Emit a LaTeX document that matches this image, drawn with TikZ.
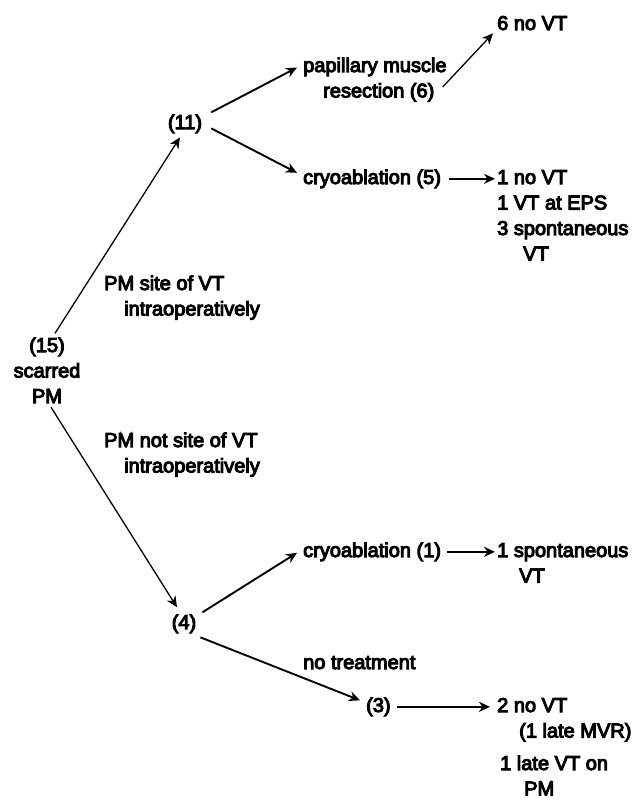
\documentclass[tikz,border=0pt]{standalone}
\usepackage{fontspec}
\newfontfamily\flowfont{Liberation Sans}[RawFeature={embolden=5}]
\usetikzlibrary{arrows.meta}

\begin{document}
\begin{tikzpicture}[x=1pt, y=-1pt,
      every node/.style={font=\flowfont\fontsize{20}{25.5}\selectfont, inner sep=0pt},
      txt/.style={anchor=base west, align=left},
      mid/.style={anchor=base, align=center},
      >={Stealth[length=11pt, width=10pt, inset=3.5pt]},
      thinline/.style={->, line width=1.3pt},
      arrowline/.style={->, line width=1.9pt}]
    \useasboundingbox (0,0) rectangle (638,807);

    % root and branch counts (base = last line)
    \node[mid] (n15) at (47,403) {(15)\\scarred\\PM};
    \node[mid] (n11) at (185,129) {(11)};
    \node[mid] (n4) at (184,629) {(4)};
    \node[txt] (n3) at (366,712) {(3)};

    % branch labels
    \node[txt] (site) at (104,315.5) {PM site of VT\\\hspace*{1em}intraoperatively};
    \node[txt] (nosite) at (104,472.5) {PM not site of VT\\\hspace*{1em}intraoperatively};
    \node[txt] (notreat) at (303,669) {no treatment};

    % treatments
    \node[txt] (pap) at (303,97.5) {papillary muscle\\\hspace*{1em}resection (6)};
    \node[txt] (cryo5) at (303,184) {cryoablation (5)};
    \node[txt] (cryo1) at (303,557) {cryoablation (1)};

    % outcomes
    \node[txt] (sixno) at (497,30) {6 no VT};
    \node[txt] (res5) at (497,260.5) {1 no VT\\1 VT at EPS\\3 spontaneous\\\hspace*{1.3em}VT};
    \node[txt] (res1) at (497,582.5) {1 spontaneous\\\hspace*{1.1em}VT};
    \node[txt] (res3) at (497,737.5) {2 no VT\\\hspace*{1.1em}(1 late MVR)};
    \node[txt] (late) at (500,795.5) {1 late VT on\\\hspace*{1.2em}PM};

    \draw[thinline] ([xshift=8pt,yshift=4pt]n15.north) -- ([xshift=-5pt,yshift=-4pt]n11.south);
    \draw[thinline] ([xshift=4pt,yshift=-4pt]n15.south) -- ([xshift=-7pt,yshift=7pt]n4.north);

    \draw[arrowline] ([xshift=9pt,yshift=2pt]n11.north east) -- ([xshift=-6pt,yshift=12pt]pap.west);
    \draw[arrowline] ([xshift=9pt,yshift=5pt]n11.south east) -- ([xshift=-6pt,yshift=6pt]cryo5.west);
    \draw[thinline] ([xshift=-4pt,yshift=15pt]pap.south east) -- ([xshift=-4pt,yshift=-3pt]sixno.south west);
    \draw[arrowline, shorten <=8pt, shorten >=2pt] (cryo5.east) -- (cryo5.east -| res5.west);

    \draw[arrowline] ([xshift=6pt,yshift=2pt]n4.north east) -- ([xshift=-6pt,yshift=-1pt]cryo1.west);
    \draw[arrowline] ([xshift=4pt,yshift=-4pt]n4.south east) -- ([xshift=-6pt,yshift=-3pt]n3.north west);
    \draw[arrowline, shorten <=6pt, shorten >=2pt] (cryo1.east) -- (cryo1.east -| res1.west);
    \draw[arrowline, shorten <=6pt, shorten >=7pt] (n3.east) -- (n3.east -| res3.west);
  \end{tikzpicture}
\end{document}
